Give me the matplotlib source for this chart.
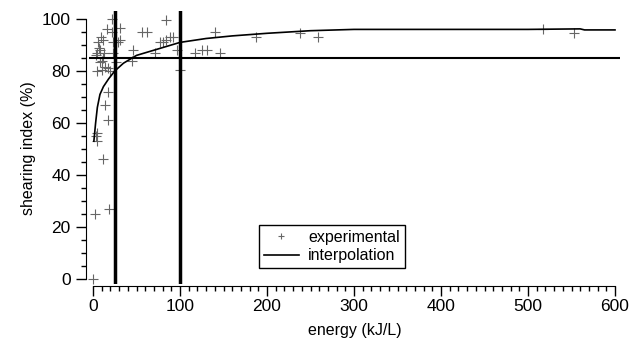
import matplotlib
matplotlib.use("Agg")
import matplotlib.pyplot as plt
from matplotlib.ticker import MultipleLocator

plt.rcParams['font.family'] = ['Liberation Sans', 'DejaVu Sans']

# experimental points (energy kJ/L, shearing index %)
exp_energy = [0.5, 2, 3, 5, 5, 18, 11.5, 14, 17, 17, 22, 31, 22, 31, 29, 6, 11,
              8, 13, 23, 23, 5, 8, 10, 14, 5, 10, 17, 27, 46, 45, 56, 62, 84,
              80, 84, 88, 92, 77, 96, 100, 71, 117, 125, 131, 146, 140, 187,
              238, 259, 517, 553, 16, 20, 3, 7, 9, 12]
exp_index = [0, 25, 55, 53, 56, 27, 46, 67, 61, 72, 100, 96.5, 95, 92, 91, 91,
             92, 88, 87, 91, 87, 87, 83.5, 80.4, 81.5, 80, 84, 81, 83.5, 88,
             84, 95, 95, 99.6, 91, 92, 93, 93, 91, 88, 80.4, 87, 87, 88, 88,
             87, 95, 93, 94.6, 93, 96, 94.6, 96, 80, 86, 89, 93, 85]

# interpolation curve
fit_energy = [1, 3, 5, 8, 12, 18, 25, 35, 50, 70, 100, 130, 160, 200, 250,
              300, 500, 560, 565, 600]
fit_index = [53, 60, 66, 71, 74, 77, 80, 83, 86, 88, 91, 92.5, 93.5, 94.5,
             95.5, 96, 96, 96.2, 95.8, 95.8]

threshold_index = 85
energy_limits = [25, 100]

W, H = 631, 345
fig = plt.figure(figsize=(W / 100, H / 100), dpi=100)
x0, x1 = -5, 606
y0, y1 = -2, 103
px_per_x = 522 / 600
px_per_y = 260 / 100
left = 93 + x0 * px_per_x
right = 93 + x1 * px_per_x
top = 19 - (y1 - 100) * px_per_y
bottom = 279 - y0 * px_per_y
ax = fig.add_axes([left / W, 1 - bottom / H, (right - left) / W, (bottom - top) / H])

ax.plot(exp_energy, exp_index, linestyle='none', marker='+', markersize=7,
        markeredgewidth=0.8, color='#666666', label='experimental', clip_on=False)
ax.plot(fit_energy, fit_index, color='black', linewidth=1.2, label='interpolation')
ax.axhline(threshold_index, color='black', linewidth=1.5)
for e in energy_limits:
    ax.axvline(e, color='black', linewidth=2.5)

ax.set_xlim(x0, x1)
ax.set_ylim(y0, y1)
ax.spines['top'].set_visible(False)
ax.spines['right'].set_visible(False)
ax.spines['left'].set_bounds(0, 100)
ax.spines['bottom'].set_bounds(0, 600)
ax.spines['left'].set_position(('outward', 2))
ax.spines['bottom'].set_position(('outward', 1))
ax.xaxis.set_major_locator(MultipleLocator(100))
ax.xaxis.set_minor_locator(MultipleLocator(10))
ax.yaxis.set_major_locator(MultipleLocator(20))
ax.yaxis.set_minor_locator(MultipleLocator(5))
ax.tick_params(which='major', direction='out', length=7, width=1, labelsize=12.5)
ax.tick_params(axis='x', which='major', pad=3)
ax.tick_params(axis='y', which='major', pad=4)
ax.tick_params(which='minor', direction='out', length=3.5, width=1)

ax.set_xlabel('energy (kJ/L)', fontsize=11.5, labelpad=6)
ax.set_ylabel('shearing index (%)', fontsize=11.5, labelpad=4)

leg = ax.legend(loc='lower left', bbox_to_anchor=(0.305, 0.03), fontsize=11.5,
                frameon=True, fancybox=False, edgecolor='black', markerscale=0.6,
                handlelength=2.2, borderpad=0.3, labelspacing=0.2, handletextpad=0.6)
leg.get_frame().set_linewidth(1)
leg.get_frame().set_alpha(1)

fig.savefig('out.png', dpi=100)
